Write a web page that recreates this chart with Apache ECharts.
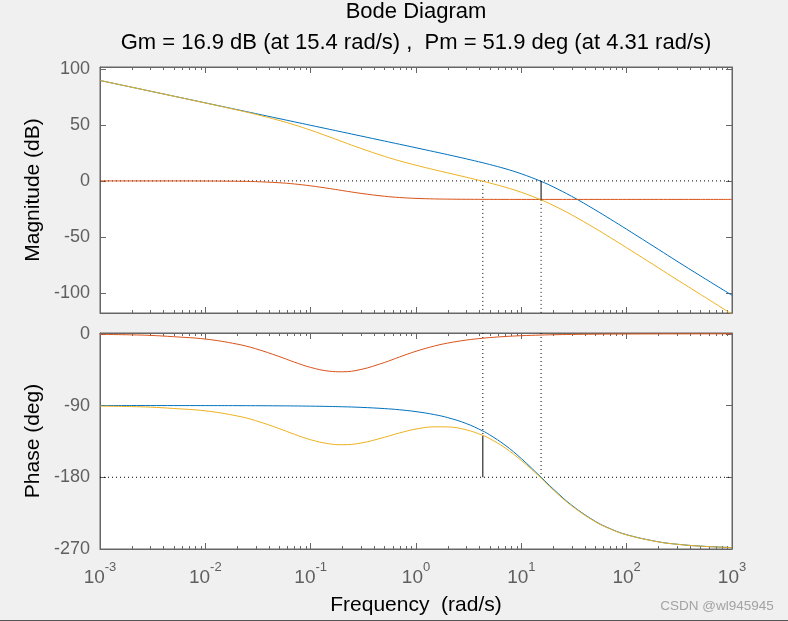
<!DOCTYPE html>
<html><head><meta charset="utf-8">
<script src="https://cdn.jsdelivr.net/npm/echarts@6/dist/echarts.min.js"></script>
<style>html,body{margin:0;padding:0;background:#f0f0f0}#c{width:788px;height:621px}</style>
</head><body><div id="c"></div>
<script>
// ---- data ----
const freq      = [0.001, 0.002, 0.003, 0.005, 0.01, 0.02, 0.03, 0.05, 0.07, 0.1, 0.15, 0.2, 0.3, 0.5, 0.7, 1, 1.5, 2, 3, 4.31, 5, 7, 10, 15.4, 20, 30, 50, 70, 100, 200, 300, 500, 1000];
const magPlant  = [89.6, 83.58, 80.06, 75.62, 69.6, 63.58, 60.06, 55.62, 52.7, 49.6, 46.08, 43.58, 40.06, 35.61, 32.68, 29.56, 25.99, 23.42, 19.7, 16.19, 14.67, 10.94, 6.35, -0.4, -5.22, -13.71, -25.7, -34.06, -43.13, -61.02, -71.56, -84.6, -102.0];
const magComp   = [0.0, -0.003, -0.007, -0.02, -0.08, -0.3, -0.65, -1.61, -2.72, -4.38, -6.75, -8.59, -11.1, -13.66, -14.81, -15.58, -16.06, -16.24, -16.38, -16.44, -16.46, -16.48, -16.49, -16.49, -16.49, -16.49, -16.49, -16.49, -16.49, -16.49, -16.49, -16.49, -16.49];
const magOpen   = [89.6, 83.58, 80.05, 75.6, 69.52, 63.28, 59.41, 54.01, 49.98, 45.22, 39.33, 34.99, 28.96, 21.95, 17.87, 13.98, 9.93, 7.18, 3.32, -0.25, -1.79, -5.54, -10.14, -16.89, -21.71, -30.2, -42.19, -50.55, -59.62, -77.51, -88.05, -101.1, -118.9];
const phPlant   = [-90.01, -90.02, -90.02, -90.04, -90.08, -90.15, -90.23, -90.38, -90.53, -90.76, -91.15, -91.53, -92.29, -93.82, -95.34, -97.63, -101.41, -105.17, -112.57, -121.94, -126.69, -139.63, -156.56, -180.01, -194.45, -214.97, -235.08, -244.62, -252.07, -260.98, -263.97, -266.38, -268.19];
const phComp    = [-0.66, -1.33, -1.99, -3.66, -6.59, -12.9, -18.73, -28.43, -35.51, -42.18, -46.91, -47.65, -44.77, -36.07, -29.0, -21.9, -15.29, -11.66, -7.88, -5.51, -4.76, -3.4, -2.39, -1.55, -1.19, -0.8, -0.48, -0.34, -0.24, -0.12, -0.08, -0.05, -0.02];
const phOpen    = [-90.67, -91.35, -92.01, -93.7, -96.67, -103.05, -108.96, -118.81, -126.04, -132.94, -138.06, -139.18, -137.06, -129.89, -124.34, -119.53, -116.7, -116.83, -120.45, -127.45, -131.45, -143.03, -158.95, -181.0, -195.64, -215.77, -235.56, -244.96, -252.31, -261.1, -264.05, -266.43, -268.21];
const magTicks  = [100, 50, 0, -50, -100];
const phTicks   = [0, -90, -180, -270];
const gmDb = 16.9, wpc = 15.4, pmDeg = 51.9, wcg = 4.31;
const titleText = 'Bode Diagram';
const subText = 'Gm = ' + gmDb + ' dB (at ' + wpc + ' rad/s) ,  Pm = ' + pmDeg + ' deg (at ' + wcg + ' rad/s)';

// ---- layout / style ----
const FONT = "'Liberation Sans', Arial, Helvetica, sans-serif";
const fMin = 1e-3, fMax = 1e3;
const magMin = -117.8, magMax = 101.6, phMin = -270, phMax = 1;
const AX = '#666666', TXT = '#5f5f5f';
const C_PLANT = '#0072BD', C_COMP = '#D95319', C_OPEN = '#EDB120';

const minorFreqs = [];
for (let k = -3; k < 3; k++) for (let m = 2; m <= 9; m++) minorFreqs.push(m * Math.pow(10, k));

function xAx(gi, pos, labels) {
  return {
    type: 'log', logBase: 10, gridIndex: gi, position: pos, min: fMin, max: fMax,
    axisLine: { show: true, onZero: false, lineStyle: { color: AX, width: 1 } },
    axisTick: { show: true, inside: true, length: 6, lineStyle: { color: AX, width: 1 } },
    splitLine: { show: false }, minorTick: { show: false },
    axisLabel: labels ? {
      show: true, margin: 12,
      formatter: v => '{b|10}{s|' + Math.round(Math.log10(v)) + '}',
      rich: {
        b: { fontSize: 19, fontFamily: FONT, color: TXT, verticalAlign: 'bottom', lineHeight: 26 },
        s: { fontSize: 13, fontFamily: FONT, color: TXT, verticalAlign: 'top', lineHeight: 14 }
      }
    } : { show: false }
  };
}
function yAx(gi, pos, mn, mx, ticks, labels) {
  return {
    type: 'value', gridIndex: gi, position: pos, min: mn, max: mx,
    axisLine: { show: true, onZero: false, lineStyle: { color: AX, width: 1 } },
    axisTick: { show: true, inside: true, length: 6, customValues: ticks, lineStyle: { color: AX, width: 1 } },
    splitLine: { show: false },
    axisLabel: labels ? { show: true, customValues: ticks, margin: 10, fontSize: 18, fontFamily: FONT, color: TXT } : { show: false }
  };
}
function minorTicks(params, api) {
  const cs = params.coordSys;
  const x = Math.round(api.coord([api.value(0), api.value(1)])[0]) + 0.5;
  const yb = cs.y + cs.height, yt = cs.y;
  return { type: 'group', children: [
    { type: 'line', shape: { x1: x, y1: yb, x2: x, y2: yb - 3 }, style: { stroke: AX, lineWidth: 1 } },
    { type: 'line', shape: { x1: x, y1: yt, x2: x, y2: yt + 3 }, style: { stroke: AX, lineWidth: 1 } }
  ]};
}
function curve(name, xs, ys, color, xi, yi) {
  return { type: 'line', name, xAxisIndex: xi, yAxisIndex: yi, data: xs.map((f, i) => [f, ys[i]]),
    showSymbol: false, symbol: 'none', smooth: 0.4, clip: true, silent: true,
    lineStyle: { color, width: 1 }, itemStyle: { color } };
}
function seg(pts, xi, yi, dotted) {
  return { type: 'line', xAxisIndex: xi, yAxisIndex: yi, data: pts, showSymbol: false, symbol: 'none', silent: true,
    lineStyle: { color: '#000', width: 1, type: dotted ? [1, 3] : 'solid' }, itemStyle: { color: '#000' } };
}

const chart = echarts.init(document.getElementById('c'), null, { renderer: 'canvas' });
chart.setOption({
  backgroundColor: '#f0f0f0',
  animation: false,
  grid: [
    { left: 100, top: 67, width: 632, height: 246, show: true, backgroundColor: '#fff', borderColor: AX, borderWidth: 1, containLabel: false, outerBoundsMode: 'none' },
    { left: 100, top: 333, width: 632, height: 216, show: true, backgroundColor: '#fff', borderColor: AX, borderWidth: 1, containLabel: false, outerBoundsMode: 'none' }
  ],
  xAxis: [xAx(0, 'bottom', false), xAx(0, 'top', false), xAx(1, 'bottom', true), xAx(1, 'top', false)],
  yAxis: [yAx(0, 'left', magMin, magMax, magTicks, true), yAx(0, 'right', magMin, magMax, magTicks, false),
          yAx(1, 'left', phMin, phMax, phTicks, true), yAx(1, 'right', phMin, phMax, phTicks, false)],
  series: [
    { type: 'custom', xAxisIndex: 0, yAxisIndex: 0, data: minorFreqs.map(f => [f, 0]), renderItem: minorTicks, silent: true, clip: false },
    { type: 'custom', xAxisIndex: 2, yAxisIndex: 2, data: minorFreqs.map(f => [f, -90]), renderItem: minorTicks, silent: true, clip: false },
    // dotted guide lines
    seg([[fMin, 0], [fMax, 0]], 0, 0, true),
    seg([[wcg, 0], [wcg, magMin]], 0, 0, true),
    seg([[wpc, -gmDb], [wpc, magMin]], 0, 0, true),
    seg([[fMin, -180], [fMax, -180]], 2, 2, true),
    seg([[wcg, phMax], [wcg, -180 + pmDeg]], 2, 2, true),
    seg([[wpc, phMax], [wpc, -180]], 2, 2, true),
    // curves
    curve('plant', freq, magPlant, C_PLANT, 0, 0),
    curve('comp', freq, magComp, C_COMP, 0, 0),
    curve('open', freq, magOpen, C_OPEN, 0, 0),
    curve('plant', freq, phPlant, C_PLANT, 2, 2),
    curve('comp', freq, phComp, C_COMP, 2, 2),
    curve('open', freq, phOpen, C_OPEN, 2, 2),
    // margin markers
    seg([[wpc, 0], [wpc, -gmDb]], 0, 0, false),
    seg([[wcg, -180 + pmDeg], [wcg, -180]], 2, 2, false)
  ],
  graphic: [
    { type: 'text', x: 416, y: 12, style: { text: titleText, font: '22px ' + FONT, fill: '#000', align: 'center', verticalAlign: 'middle' } },
    { type: 'text', x: 416, y: 43, style: { text: subText, font: '22px ' + FONT, fill: '#000', align: 'center', verticalAlign: 'middle' } },
    { type: 'text', x: 33, y: 190, rotation: Math.PI / 2, style: { text: 'Magnitude (dB)', font: '21px ' + FONT, fill: '#000', align: 'center', verticalAlign: 'middle' } },
    { type: 'text', x: 33, y: 441, rotation: Math.PI / 2, style: { text: 'Phase (deg)', font: '21px ' + FONT, fill: '#000', align: 'center', verticalAlign: 'middle' } },
    { type: 'text', x: 416, y: 605, style: { text: 'Frequency  (rad/s)', font: '21px ' + FONT, fill: '#000', align: 'center', verticalAlign: 'middle' } },
    { type: 'text', x: 717, y: 606, style: { text: 'CSDN @wl945945', font: '13.5px ' + FONT, fill: '#a3a3a3', align: 'center', verticalAlign: 'middle' } },
    { type: 'rect', shape: { x: 0, y: 620, width: 788, height: 1 }, style: { fill: '#555' } }
  ]
});
</script></body></html>
